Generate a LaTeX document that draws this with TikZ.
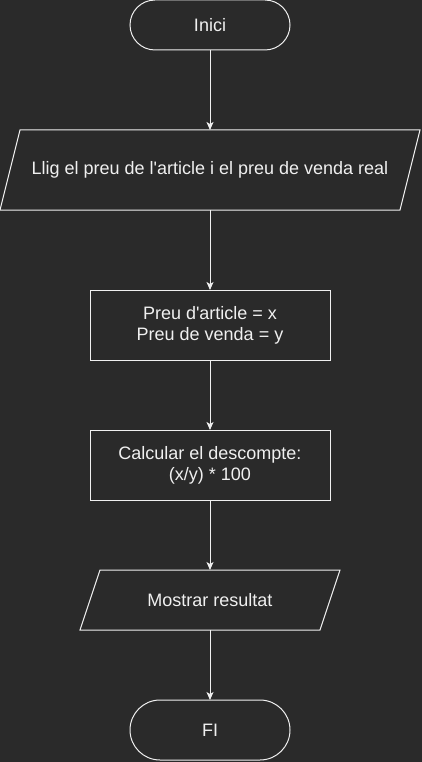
\documentclass[tikz,border=0pt]{standalone}
\usepackage{fontspec}
\setmainfont{Liberation Sans}[Ligatures=TeXOff]
\usepackage{tikz}
\usetikzlibrary{shapes.misc,positioning,arrows.meta}
\definecolor{bgdark}{HTML}{2A2A2A}
\definecolor{ink}{HTML}{F0F0F0}

\begin{document}
\begin{tikzpicture}[
            x=1pt, y=1pt,
            node distance=80pt,
            every node/.style={draw=ink, text=ink, line width=1pt, align=center, inner sep=0pt, outer sep=0pt,
                font=\fontsize{18}{21}\selectfont},
            terminal/.style={rounded rectangle, minimum width=160pt},
            io/.style={rectangle, draw=none},
            proc/.style={rectangle, minimum width=240pt, minimum height=70pt},
            flow/.style={draw=ink, line width=1pt, -{Stealth[length=8pt, width=7pt, inset=2pt]}}
        ]

        \useasboundingbox (0,0) rectangle (422,-762);
        \fill[bgdark] (0,0) rectangle (422,-762);

        \node[terminal, minimum height=50pt] (inici) at (210,-25) {Inici};
        % Input
        \node[io, below=of inici, minimum width=400pt, minimum height=80pt] (llig)
            {Llig el preu de l'article i el preu de venda real};
        % Process
        \node[proc, below=of llig] (vars) {Preu d'article = x\\Preu de venda = y};
        \node[proc, below=70pt of vars] (calc) {Calcular el descompte:\\(x/y) * 100};
        % Output
        \node[io, below=70pt of calc, minimum width=240pt, minimum height=60pt] (mostrar) {Mostrar resultat};
        \node[terminal, below=70pt of mostrar, minimum height=60pt] (fi) {FI};

        % Slanted borders of the input/output boxes
        \foreach \n in {llig,mostrar}
            \draw[ink, line width=1pt] ([xshift=10pt]\n.north west) -- ([xshift=10pt]\n.north east)
                -- ([xshift=-10pt]\n.south east) -- ([xshift=-10pt]\n.south west) -- cycle;

        \draw[flow] (inici) -- (llig);
        \draw[flow] (llig) -- (vars);
        \draw[flow] (vars) -- (calc);
        \draw[flow] (calc) -- (mostrar);
        \draw[flow] (mostrar) -- (fi);

\end{tikzpicture}
\end{document}
